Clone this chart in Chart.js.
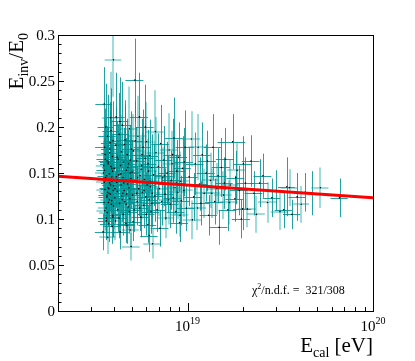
<!DOCTYPE html>
<html>
<head>
<meta charset="utf-8">
<script src="https://cdn.jsdelivr.net/npm/chart.js@4"></script>
<style>
  body { margin: 0; background: #fff; }
  #wrap { width: 415px; height: 361px; }
</style>
</head>
<body>
<div id="wrap"><canvas id="ratioChart" width="415" height="361"></canvas></div>
<script>
// calorimetric energy, units of 1e18 eV
const energy = [
  // 3.5 - 4.0
  3.52, 3.55, 3.50, 3.58, 3.60, 3.54, 3.62, 3.57, 3.65, 3.53,
  3.68, 3.70, 3.63, 3.66, 3.72, 3.59, 3.75, 3.56, 3.78, 3.74,
  3.80, 3.69, 3.82, 3.77, 3.85, 3.61, 3.88, 3.71, 3.90, 3.84,
  3.93, 3.67, 3.95, 3.79, 3.97, 3.86, 3.99, 3.73, 3.91, 3.98,
  3.64, 3.81, 3.89, 3.76, 3.94, 3.58, 3.87, 3.96, 3.83, 3.92,
  3.68, 3.99, 3.74, 3.86, 3.55, 3.95, 3.80, 3.70, 3.90, 3.62,
  // 4.0 - 5.0
  4.02, 4.05, 4.10, 4.08, 4.15, 4.12, 4.18, 4.22, 4.20, 4.25,
  4.28, 4.30, 4.35, 4.33, 4.38, 4.40, 4.42, 4.45, 4.48, 4.50,
  4.52, 4.55, 4.58, 4.60, 4.63, 4.65, 4.68, 4.70, 4.73, 4.75,
  4.78, 4.80, 4.83, 4.85, 4.88, 4.90, 4.93, 4.95, 4.98, 4.06,
  4.17, 4.27, 4.36, 4.47, 4.57, 4.66, 4.76, 4.86, 4.96, 4.13,
  4.32, 4.53, 4.71, 4.91, 4.44,
  // 5.0 - 6.5
  5.02, 5.05, 5.10, 5.15, 5.20, 5.25, 5.30, 5.35, 5.40, 5.45,
  5.50, 5.55, 5.60, 5.65, 5.70, 5.75, 5.80, 5.85, 5.90, 5.95,
  6.00, 6.05, 6.10, 6.15, 6.20, 6.25, 6.30, 6.35, 6.40, 6.45,
  5.08, 5.22, 5.38, 5.52, 5.68, 5.82, 5.98, 6.12, 6.28, 6.42,
  5.32, 5.62, 5.92, 6.22, 6.48,
  // 6.5 - 10
  6.55, 6.65, 6.75, 6.85, 6.95, 7.05, 7.15, 7.25, 7.35, 7.45,
  7.55, 7.65, 7.75, 7.85, 7.95, 8.05, 8.15, 8.25, 8.35, 8.45,
  8.55, 8.65, 8.75, 8.85, 8.95, 9.05, 9.15, 9.25, 9.40, 9.55,
  9.70, 9.85, 6.70, 7.10, 7.50, 7.90, 8.30, 8.70, 9.10, 9.60,
  // 10 - 20
  10.2, 10.5, 10.8, 11.0, 11.3, 11.6, 12.0, 12.3, 12.6, 13.0,
  13.3, 13.7, 14.0, 14.4, 14.8, 15.2, 15.6, 16.0, 16.5, 17.0,
  17.5, 18.0, 18.5, 19.0, 19.5, 10.6, 11.8, 12.8, 13.5, 14.6,
  15.8, 16.8, 18.2, 19.8, 11.4,
  // above 20
  20.0, 20.5, 21.0, 22.0, 22.8, 23.5, 24.5, 25.5, 27.0, 28.5,
  30.0, 31.5, 33.0, 34.3, 35.5, 36.6, 39.0, 41.0, 43.0, 47.0,
  52.0, 66.0
];

const energyErr = [
  .35, .37, .34, .36, .38, .35, .36, .40, .37, .33,
  .38, .40, .35, .39, .37, .36, .38, .34, .40, .37,
  .39, .36, .41, .38, .40, .35, .39, .37, .42, .38,
  .40, .36, .41, .37, .43, .39, .40, .36, .42, .41,
  .35, .40, .38, .37, .42, .36, .39, .40, .38, .41,
  .37, .44, .36, .40, .34, .42, .38, .37, .41, .35,

  .42, .43, .45, .44, .44, .46, .45, .47, .44, .46,
  .48, .45, .47, .49, .46, .48, .47, .50, .48, .46,
  .49, .50, .48, .51, .49, .52, .50, .49, .53, .51,
  .50, .54, .52, .51, .55, .53, .52, .56, .54, .44,
  .45, .47, .48, .49, .50, .51, .52, .53, .55, .45,
  .47, .49, .51, .53, .48,

  .55, .56, .57, .56, .58, .57, .59, .58, .60, .59,
  .61, .60, .62, .61, .63, .62, .64, .63, .65, .64,
  .66, .65, .67, .66, .68, .67, .69, .68, .70, .69,
  .56, .57, .59, .60, .62, .63, .65, .66, .68, .70,
  .58, .61, .64, .67, .71,

  .72, .73, .74, .75, .76, .77, .78, .79, .80, .82,
  .83, .84, .85, .86, .87, .88, .89, .90, .92, .93,
  .94, .95, .96, .97, .98, 1.0, 1.0, 1.0, 1.0, 1.1,
  1.1, 1.1, .73, .78, .82, .87, .91, .96, 1.0, 1.1,

  1.1, 1.2, 1.2, 1.2, 1.3, 1.3, 1.3, 1.4, 1.4, 1.4,
  1.5, 1.5, 1.6, 1.6, 1.6, 1.7, 1.7, 1.8, 1.8, 1.9,
  3.0, 2.0, 2.1, 2.1, 2.2, 1.2, 1.3, 1.4, 1.5, 1.6,
  1.7, 1.9, 2.0, 2.2, 1.3,

  2.2, 2.2, 2.3, 2.4, 2.5, 2.6, 2.7, 2.8, 3.0, 3.1,
  3.2, 3.4, 3.5, 3.6, 3.8, 3.9, 4.0, 4.2, 4.5, 5.0,
  5.5, 7.0
];

// E_inv / E_0
const ratio = [
  .150, .225, .086, .132, .165, .118, .142, .178, .101, .158,
  .126, .190, .112, .147, .134, .170, .095, .153, .121, .162,
  .139, .107, .183, .128, .210, .145, .116, .080, .155, .137,
  .168, .124, .102, .149, .131, .196, .114, .160, .141, .273,
  .098, .176, .120, .133, .152, .109, .143, .185, .127, .092,
  .163, .136, .118, .157, .140, .104, .172, .129, .146, .200,

  .155, .123, .180, .098, .140, .211, .130, .165, .110, .148,
  .192, .117, .158, .086, .137, .173, .125, .202, .145, .105,
  .162, .131, .119, .186, .142, .095, .153, .127, .170, .138,
  .113, .160, .134, .198, .122, .150, .088, .144, .176, .133,
  .167, .101, .149, .128, .181, .116, .156, .108, .070, .146,
  .206, .139, .093, .164, .121,

  .151, .126, .174, .110, .251, .140, .163, .119, .190, .133,
  .211, .147, .102, .158, .129, .178, .115, .143, .166, .124,
  .184, .137, .094, .152, .121, .169, .135, .108, .156, .128,
  .097, .185, .145, .112, .170, .131, .105, .160, .141, .117,
  .128, .154, .200, .082, .073,

  .148, .125, .172, .110, .157, .133, .182, .119, .145, .164,
  .127, .101, .150, .138, .175, .116, .142, .160, .123, .188,
  .134, .108, .152, .129, .167, .096, .141, .120, .155, .131,
  .178, .112, .195, .090, .147, .121, .170, .139, .104, .162,

  .146, .187, .124, .160, .112, .138, .170, .128, .150, .104,
  .142, .178, .119, .133, .091, .156, .126, .165, .110, .137,
  .184, .122, .153, .131, .100, .099, .117, .163, .128, .147,
  .139, .118, .145, .111, .178,

  .160, .139, .111, .163, .128, .105, .139, .147, .118, .123,
  .131, .108, .110, .135, .134, .105, .124, .116, .129, .128,
  .134, .123
];

const ratioErr = [
  .035, .040, .020, .030, .038, .025, .032, .042, .022, .036,
  .028, .045, .024, .033, .029, .040, .020, .034, .026, .037,
  .031, .023, .044, .027, .050, .034, .025, .018, .036, .030,
  .040, .028, .022, .035, .029, .046, .025, .038, .031, .040,
  .021, .041, .026, .030, .035, .024, .032, .043, .028, .019,
  .038, .030, .026, .036, .031, .023, .040, .029, .033, .047,

  .036, .028, .042, .021, .032, .048, .029, .038, .024, .034,
  .045, .026, .036, .019, .031, .040, .028, .047, .033, .023,
  .037, .030, .026, .043, .032, .021, .035, .028, .039, .031,
  .025, .037, .030, .046, .027, .034, .019, .033, .041, .030,
  .039, .022, .034, .029, .042, .026, .036, .024, .015, .034,
  .048, .032, .020, .038, .027,

  .035, .028, .040, .024, .045, .032, .037, .026, .044, .030,
  .048, .034, .022, .036, .029, .041, .025, .032, .038, .027,
  .043, .031, .020, .035, .027, .039, .030, .024, .036, .028,
  .021, .043, .033, .025, .039, .030, .023, .037, .032, .026,
  .029, .035, .046, .018, .016,

  .034, .028, .039, .024, .036, .030, .042, .026, .033, .037,
  .028, .022, .034, .031, .040, .026, .032, .036, .027, .044,
  .030, .024, .034, .029, .038, .021, .032, .027, .035, .029,
  .040, .025, .045, .020, .033, .027, .039, .031, .023, .037,

  .032, .030, .026, .034, .024, .029, .035, .027, .031, .022,
  .030, .036, .025, .028, .019, .032, .026, .034, .023, .028,
  .030, .025, .031, .027, .021, .021, .024, .033, .027, .030,
  .028, .024, .029, .023, .036,

  .030, .028, .020, .028, .024, .020, .026, .024, .022, .021,
  .022, .020, .020, .032, .020, .016, .026, .020, .021, .024,
  .022, .021
];

// fitted straight line (in log E)
const fitX = [2e18, 1e20];
const fitY = [0.1465, 0.1232];

const yTicks = [0, 0.05, 0.1, 0.15, 0.2, 0.25, 0.3];
const yTickLabels = ['0', '0.05', '0.1', '0.15', '0.2', '0.25', '0.3'];
const xDecades = [1e19, 1e20];
const xDecadeExp = ['19', '20'];

const SERIF = '"Liberation Serif", "DejaVu Serif", serif';

// error bars, drawn under the markers
const errorBars = {
  id: 'errorBars',
  beforeDatasetsDraw(chart) {
    const { ctx, chartArea: a, scales: { x, y } } = chart;
    ctx.save();
    ctx.beginPath();
    ctx.rect(a.left, a.top, a.right - a.left, a.bottom - a.top);
    ctx.clip();
    energy.forEach((e, i) => {
      const light = i % 3 === 0;
      const px = Math.round(x.getPixelForValue(e * 1e18)) + (light ? 0 : 0.5);
      const py = Math.round(y.getPixelForValue(ratio[i])) + (light ? 0 : 0.5);
      const x0 = x.getPixelForValue((e - energyErr[i]) * 1e18);
      const x1 = x.getPixelForValue((e + energyErr[i]) * 1e18);
      const y0 = y.getPixelForValue(ratio[i] - ratioErr[i]);
      const y1 = y.getPixelForValue(ratio[i] + ratioErr[i]);
      ctx.strokeStyle = light ? 'rgba(0,160,160,0.38)' : 'rgba(0,145,145,0.85)';
      ctx.lineWidth = light ? 2 : 1;
      ctx.beginPath();
      ctx.moveTo(px, y0); ctx.lineTo(px, y1);
      ctx.moveTo(x0, py); ctx.lineTo(x1, py);
      ctx.stroke();
    });
    ctx.restore();
  }
};

// ROOT style frame, inward ticks and labels
const rootFrame = {
  id: 'rootFrame',
  afterDraw(chart) {
    const { ctx, chartArea: a, scales: { x, y } } = chart;
    ctx.save();
    ctx.strokeStyle = '#000';
    ctx.lineWidth = 1;
    ctx.strokeRect(Math.round(a.left) + 0.5, Math.round(a.top) + 0.5,
      Math.round(a.right - a.left), Math.round(a.bottom - a.top));

    // y ticks every 0.01
    ctx.beginPath();
    for (let k = 0; k <= 30; k++) {
      const py = Math.round(y.getPixelForValue(k / 100)) + 0.5;
      const len = k % 5 === 0 ? 6 : 3.5;
      ctx.moveTo(a.left, py); ctx.lineTo(a.left + len, py);
    }
    // log x ticks
    for (let d = 18; d <= 19; d++) {
      for (let m = 1; m <= 10; m++) {
        const v = m * Math.pow(10, d);
        if (v < x.min || v > x.max) continue;
        const px = Math.round(x.getPixelForValue(v)) + 0.5;
        const len = (m === 1 || m === 10) ? 8 : 4;
        ctx.moveTo(px, a.bottom); ctx.lineTo(px, a.bottom - len);
      }
    }
    ctx.stroke();

    ctx.fillStyle = '#000';
    ctx.font = '15px ' + SERIF;
    ctx.textAlign = 'right';
    ctx.textBaseline = 'middle';
    yTicks.forEach((v, i) => {
      ctx.fillText(yTickLabels[i], a.left - 3, y.getPixelForValue(v) + 1);
    });

    // 10^n labels
    ctx.textBaseline = 'alphabetic';
    ctx.textAlign = 'left';
    xDecades.forEach((v, i) => {
      ctx.font = '15px ' + SERIF;
      const wb = ctx.measureText('10').width;
      ctx.font = '10px ' + SERIF;
      const we = ctx.measureText(xDecadeExp[i]).width;
      const x0 = x.getPixelForValue(v) - (wb + we) / 2;
      ctx.font = '15px ' + SERIF;
      ctx.fillText('10', x0, 331);
      ctx.font = '10px ' + SERIF;
      ctx.fillText(xDecadeExp[i], x0 + wb, 324);
    });

    // draw a run of [text, size, shift] pieces
    const run = (parts, x0, base) => {
      let cx = x0;
      parts.forEach(([t, s, dy]) => {
        ctx.font = s + 'px ' + SERIF;
        ctx.fillText(t, cx, base + dy);
        cx += ctx.measureText(t).width;
      });
    };
    const width = parts => parts.reduce((w, [t, s]) => {
      ctx.font = s + 'px ' + SERIF;
      return w + ctx.measureText(t).width;
    }, 0);

    // x title
    const xt = [['E', 21, 0], ['cal', 14, 5], [' [eV]', 21, 0]];
    run(xt, a.right - width(xt), 352);

    // y title
    const yt = [['E', 21, 0], ['inv', 14, 5], ['/E', 21, 0], ['0', 14, 5]];
    ctx.save();
    ctx.translate(23, a.top - 2);
    ctx.rotate(-Math.PI / 2);
    run(yt, -width(yt), 0);
    ctx.restore();

    // fit quality
    run([['\u03c7', 12, 0], ['2', 8, -5], ['/n.d.f. =  321/308', 12, 0]], 252, 294);

    ctx.restore();
  }
};

const points = energy.map((e, i) => ({ x: e * 1e18, y: ratio[i] }));
const fitLine = fitX.map((v, i) => ({ x: v, y: fitY[i] }));

new Chart(document.getElementById('ratioChart'), {
  type: 'scatter',
  data: {
    datasets: [{
      label: 'fit',
      data: fitLine,
      showLine: true,
      borderColor: 'rgb(255,0,0)',
      borderWidth: 3,
      pointRadius: 0,
      order: 0
    }, {
      label: 'events',
      data: points,
      pointRadius: 0.8,
      pointBackgroundColor: '#000',
      pointBorderWidth: 0,
      order: 1
    }]
  },
  options: {
    responsive: false,
    animation: false,
    layout: { padding: { left: 58, right: 42, top: 35, bottom: 50 } },
    plugins: { legend: { display: false }, tooltip: { enabled: false } },
    scales: {
      x: { type: 'logarithmic', min: 2e18, max: 1e20, display: false },
      y: { type: 'linear', min: 0, max: 0.3, display: false }
    }
  },
  plugins: [errorBars, rootFrame]
});
</script>
</body>
</html>
